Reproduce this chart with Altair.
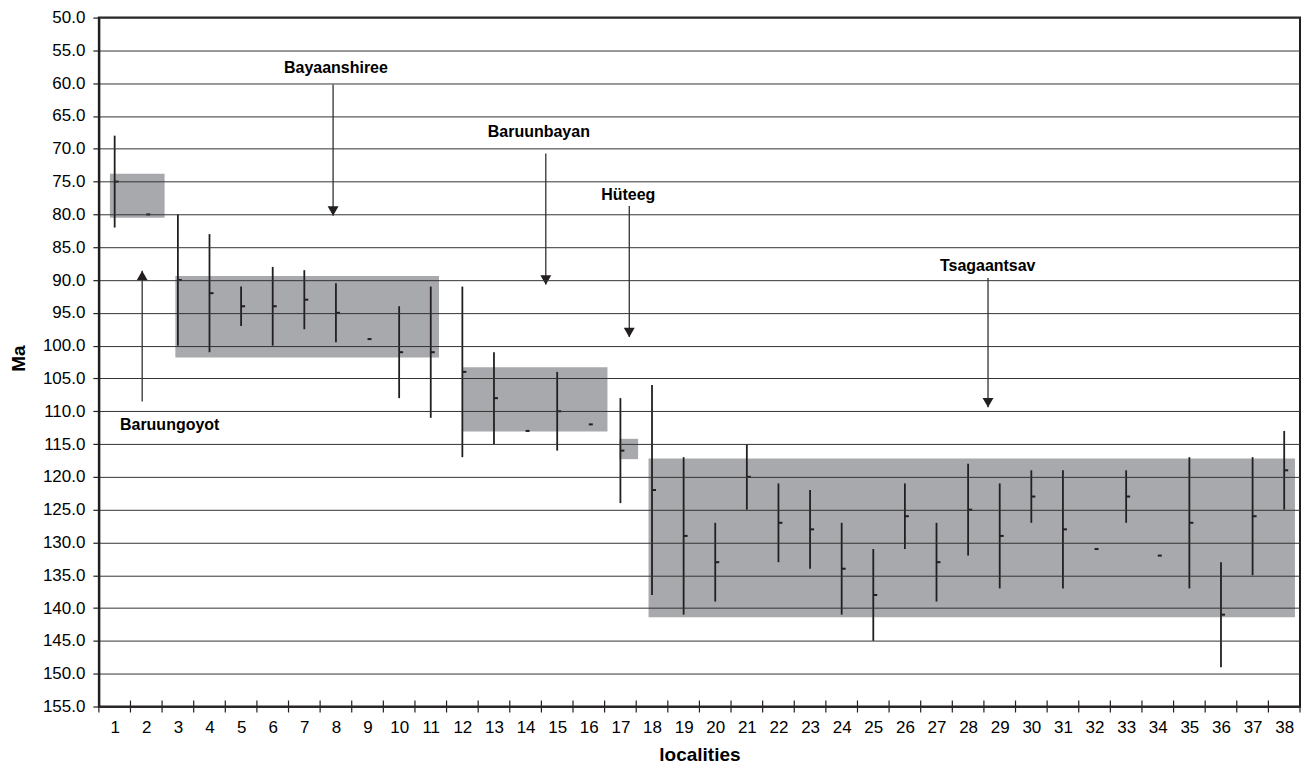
import altair as alt
import pandas as pd

# ---- data ----
localities = list(range(1, 39))
ma_low = [68, None, 80, 83, 91, 88, 88.5, 90.5, None, 94,
          91, 91, 101, None, 104, None, 108, 106, 117, 127,
          115, 121, 122, 127, 131, 121, 127, 118, 121, 119,
          119, None, 119, None, 117, 133, 117, 113]
ma_high = [82, None, 100, 101, 97, 100, 97.5, 99.5, None, 108,
           111, 117, 115, None, 116, None, 124, 138, 141, 139,
           125, 133, 134, 141, 145, 131, 139, 132, 137, 127,
           137, None, 127, None, 137, 149, 135, 125]
ma_mid = [75, 80, 90, 92, 94, 94, 93, 95, 99, 101,
          101, 104, 108, 113, 110, 112, 116, 122, 129, 133,
          120, 127, 128, 134, 138, 126, 133, 125, 129, 123,
          128, 131, 123, 132, 127, 141, 126, 119]

formations = ["Baruungoyot", "Bayaanshiree", "Baruunbayan", "Hüteeg", "Tsagaantsav"]
box_x_start = [0.85, 2.92, 12.02, 16.97, 17.89]
box_x_end = [2.58, 11.26, 16.59, 17.56, 38.34]
box_top = [73.8, 89.4, 103.3, 114.2, 117.2]
box_bottom = [80.5, 101.8, 113.1, 117.3, 141.4]

label_x = [2.74, 8.0, 14.42, 17.25, 28.62]
label_ma = [112.1, 57.7, 67.5, 77.1, 87.8]
arrow_x = [1.87, 7.91, 14.64, 17.28, 28.63]
arrow_from = [108.5, 60.2, 70.7, 78.7, 89.7]
arrow_to = [88.6, 80.2, 90.7, 98.7, 109.4]
arrow_dir = ["up", "down", "down", "down", "down"]

y_ticks = list(range(50, 160, 5))
x_boundaries = [i + 0.5 for i in range(39)]

# ---- tables ----
df_loc = pd.DataFrame({"loc": localities, "lo": ma_low, "hi": ma_high, "mid": ma_mid})
df_box = pd.DataFrame({"name": formations, "x1": box_x_start, "x2": box_x_end,
                       "top": box_top, "bottom": box_bottom})
df_lab = pd.DataFrame({"name": formations, "lx": label_x, "ly": label_ma})
df_arr = pd.DataFrame({"ax": arrow_x, "a0": arrow_from, "a1": arrow_to, "dir": arrow_dir})
df_b = pd.DataFrame({"b": x_boundaries})

W, H = 1203, 690
FONT = "Liberation Sans"
INK = "#231f20"

xs = alt.Scale(domain=[0.5, 38.5], nice=False, zero=False)
ys = alt.Scale(domain=[50, 155], nice=False, zero=False, reverse=True)

x_axis = alt.Axis(values=localities, ticks=False, tickSize=0, grid=False,
                  domainColor=INK, domainWidth=2,
                  labelFontSize=17, labelColor="#000", labelPadding=13,
                  labelFlush=False, labelOverlap=False, labelBound=False,
                  title="localities", titleFontSize=19, titleFontWeight="bold",
                  titleY=54, titleBaseline="alphabetic", titleColor="#000")
y_axis = alt.Axis(values=y_ticks, format=".1f", grid=True, gridColor="#333333",
                  gridWidth=1, tickSize=6, tickColor=INK, tickWidth=1.2,
                  domainColor=INK, domainWidth=2,
                  labelFontSize=17, labelColor="#000", labelPadding=8,
                  labelOverlap=False, labelFlush=False, labelBound=False,
                  title="Ma", titleFontSize=19, titleFontWeight="bold",
                  titleAngle=270, titleX=-80, titleY=341, titleAlign="center",
                  titleBaseline="middle", titleColor="#000", zindex=1)


def X(f):
    return alt.X(f, type="quantitative", scale=xs, axis=x_axis)


def Y(f):
    return alt.Y(f, type="quantitative", scale=ys, axis=y_axis)


boxes = alt.Chart(df_box).mark_rect(color="#a7a9ac").encode(
    x=X("x1"), x2="x2", y=Y("top"), y2="bottom")

bars = alt.Chart(df_loc).mark_rule(color=INK, strokeWidth=1.8).encode(
    x=X("loc"), y=Y("lo"), y2="hi")

marks = alt.Chart(df_loc).mark_tick(color=INK, orient="horizontal", size=4,
                                    thickness=2, xOffset=2, opacity=1).encode(
    x=X("loc"), y=Y("mid"))

xticks = alt.Chart(df_b).mark_rule(color=INK, strokeWidth=1.2).encode(
    x=X("b"), y=alt.value(H - 6), y2=alt.value(H + 6))

arrow_lines = alt.Chart(df_arr).mark_rule(color=INK, strokeWidth=1.2).encode(
    x=X("ax"), y=Y("a0"), y2="a1")

heads_down = alt.Chart(df_arr).transform_filter(alt.datum.dir == "down").mark_point(
    shape="triangle-down", filled=True, size=120, color=INK, opacity=1,
    strokeWidth=0, yOffset=-4.7).encode(x=X("ax"), y=Y("a1"))

heads_up = alt.Chart(df_arr).transform_filter(alt.datum.dir == "up").mark_point(
    shape="triangle-up", filled=True, size=120, color=INK, opacity=1,
    strokeWidth=0, yOffset=4.7).encode(x=X("ax"), y=Y("a1"))

labels = alt.Chart(df_lab).mark_text(font=FONT, fontSize=16, fontWeight="bold",
                                     color="#000", align="center",
                                     baseline="middle").encode(
    x=X("lx"), y=Y("ly"), text="name")

chart = alt.layer(boxes, bars, marks, xticks, arrow_lines, heads_down, heads_up,
                  labels).properties(
    width=W, height=H,
    autosize=alt.AutoSizeParams(type="none"),
    padding={"left": 91, "top": 9, "right": 3, "bottom": 60},
).configure(font=FONT).configure_view(stroke=INK, strokeWidth=2).configure_axis(
    labelFont=FONT, titleFont=FONT)

chart.save("out.html", embed_options={"renderer": "svg", "actions": False})
